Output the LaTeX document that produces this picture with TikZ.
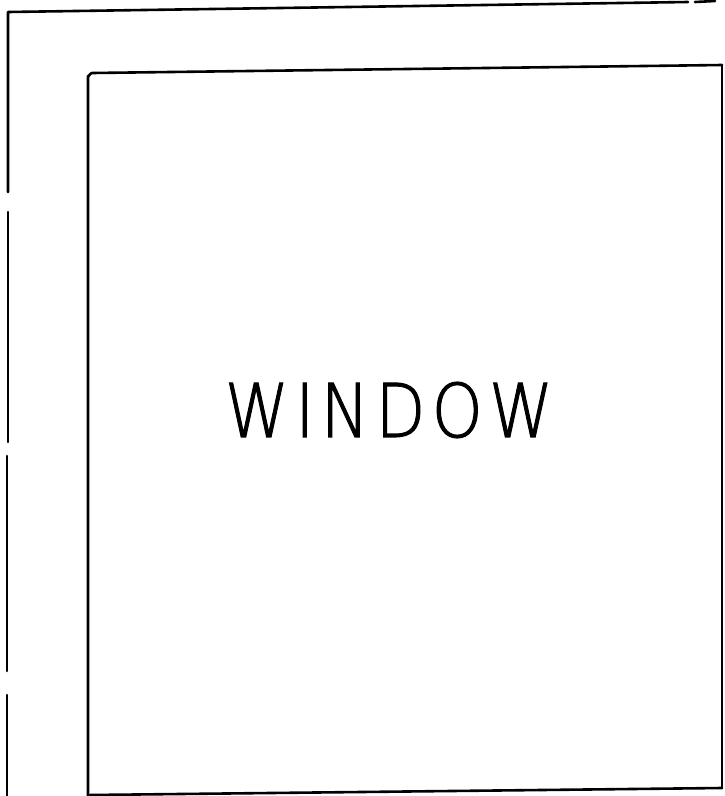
\documentclass[tikz,border=0pt]{standalone}
\usepackage{fontspec}
\newfontfamily\handfont[LetterSpace=10,FakeBold=1.5]{DejaVu Sans ExtraLight}
\begin{document}
\begin{tikzpicture}[x=1pt,y=-1pt,
  ink/.style={line width=2.6pt,line cap=round,line join=round,black},
  thin/.style={line width=2pt,line cap=round,line join=round,black}]
\useasboundingbox (0,0) rectangle (724,796);
% outer frame (top edge and broken left edge)
\coordinate (otl) at (8,12);
\coordinate (otm) at (688,2);
\coordinate (otr1) at (695,2);
\coordinate (otr2) at (715,1);
\draw[ink] (8,192) -- (otl) -- (otm);
\draw[ink] (otr1) -- (otr2);
\draw[ink] (8,212) -- (8,442);
\draw[ink] (7,456) -- (7,671);
\draw[ink] (7,695) -- (7,796);
% inner window frame
\coordinate (itl) at (88,76);
\coordinate (itr) at (722,65);
\coordinate (ibr) at (722,788);
\coordinate (ibl) at (88,796);
\draw[ink] (88,800) -- (itl) to[out=-90,in=180] (92,73) -- (itr);
\draw[thin] (itr) -- (ibr);
\draw[ink] (90,795) -- (ibr);
\node[font=\handfont\fontsize{40}{40}\selectfont,inner sep=0pt] (label) at (389,410) {\resizebox{328pt}{55pt}{WINDOW}};
\end{tikzpicture}
\end{document}
